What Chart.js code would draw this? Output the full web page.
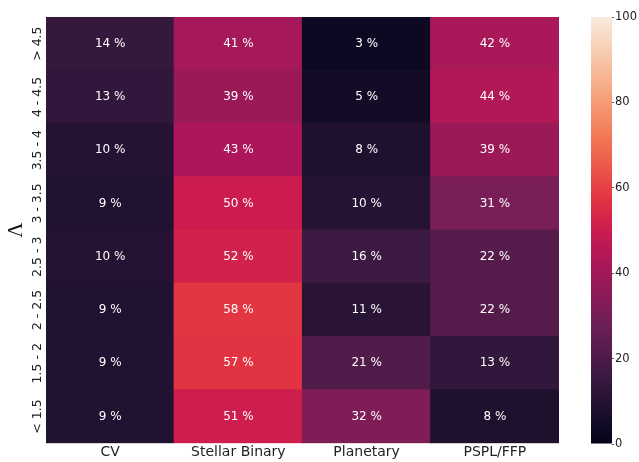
<!DOCTYPE html>
<html>
<head>
<meta charset="utf-8">
<script src="https://cdn.jsdelivr.net/npm/chart.js@4.4.1/dist/chart.umd.min.js"></script>
<style>
  html, body { margin: 0; padding: 0; background: #fff; }
  #wrap { position: relative; width: 639px; height: 462px; }
  #heat { position: absolute; left: 0; top: 0; }
  #cbar { position: absolute; left: 584px; top: 0; }
</style>
</head>
<body>
<div id="wrap">
  <canvas id="heat" width="639" height="462"></canvas>
  <canvas id="cbar" width="55" height="462"></canvas>
</div>
<script>
// heatmap data (percent per class, rows top -> bottom)
const classes = ['CV', 'Stellar Binary', 'Planetary', 'PSPL/FFP'];
const lambdaBins = ['> 4.5', '4 - 4.5', '3.5 - 4', '3 - 3.5', '2.5 - 3', '2 - 2.5', '1.5 - 2', '< 1.5'];
const cvPct       = [14, 13, 10,  9, 10,  9,  9,  9];
const binaryPct   = [41, 39, 43, 50, 52, 58, 57, 51];
const planetPct   = [ 3,  5,  8, 10, 16, 11, 21, 32];
const psplPct     = [42, 44, 39, 31, 22, 22, 13,  8];
const cbarTicks   = [0, 20, 40, 60, 80, 100];

(function(){
  'use strict';

  // rocket colormap, a few stops (position 0..1, rgb)
  const rocket = [
    [0.000, [3, 5, 26]],
    [0.143, [53, 25, 62]],
    [0.286, [112, 31, 87]],
    [0.429, [173, 23, 89]],
    [0.500, [203, 27, 79]],
    [0.571, [225, 51, 66]],
    [0.714, [243, 118, 81]],
    [0.857, [246, 180, 143]],
    [1.000, [250, 235, 221]]
  ];
  function rocketColor(t){
    t = Math.max(0, Math.min(1, t));
    for (let i = 1; i < rocket.length; i++){
      if (t <= rocket[i][0]){
        const [p0, c0] = rocket[i-1], [p1, c1] = rocket[i];
        const f = (t - p0) / (p1 - p0);
        const c = c0.map((v, k) => Math.round(v + (c1[k] - v) * f));
        return `rgb(${c[0]},${c[1]},${c[2]})`;
      }
    }
    return 'rgb(250,235,221)';
  }

  const columns = [cvPct, binaryPct, planetPct, psplPct];
  const nRows = lambdaBins.length;

  // one stacked dataset per Lambda bin, bottom row first
  const datasets = [];
  for (let r = nRows - 1; r >= 0; r--){
    const vals = columns.map(col => col[r]);
    datasets.push({
      label: lambdaBins[r],
      data: classes.map(() => 1),
      pct: vals,
      backgroundColor: vals.map(v => rocketColor(v / 100)),
      borderWidth: 0,
      inflateAmount: 0.6,
      barPercentage: 1,
      categoryPercentage: 1
    });
  }

  // cell annotations + rotated row labels + Lambda axis title
  const heatText = {
    id: 'heatText',
    afterDatasetsDraw(chart){
      const ctx = chart.ctx;
      ctx.save();
      ctx.fillStyle = '#ffffff';
      ctx.font = '12px "DejaVu Sans"';
      ctx.textAlign = 'center';
      ctx.textBaseline = 'middle';
      chart.data.datasets.forEach((ds, di) => {
        chart.getDatasetMeta(di).data.forEach((el, i) => {
          const p = el.getCenterPoint();
          ctx.fillText(ds.pct[i] + ' %', p.x, p.y);
        });
      });

      const ys = chart.scales.y;
      ctx.fillStyle = '#222';
      ctx.font = '12.5px "DejaVu Sans"';
      lambdaBins.forEach((lab, r) => {
        const y = ys.getPixelForValue(nRows - r - 0.5);
        ctx.save();
        ctx.translate(38, y);
        ctx.rotate(-Math.PI / 2);
        ctx.fillText(lab, 0, 0);
        ctx.restore();
      });

      const a = chart.chartArea;
      ctx.save();
      ctx.translate(16, (a.top + a.bottom) / 2);
      ctx.rotate(-Math.PI / 2);
      ctx.font = '21px "Liberation Serif"';
      ctx.fillStyle = '#111';
      ctx.fillText('\u039B', 0, 0);
      ctx.restore();
      ctx.restore();
    }
  };

  new Chart(document.getElementById('heat'), {
    type: 'bar',
    data: { labels: classes, datasets },
    options: {
      responsive: false,
      animation: false,
      devicePixelRatio: 1,
      layout: { padding: { left: 46, top: 17, right: 80, bottom: 0 } },
      plugins: { legend: { display: false }, tooltip: { enabled: false } },
      scales: {
        x: {
          stacked: true,
          grid: { display: false, drawTicks: false },
          border: { display: false },
          ticks: { color: '#222', font: { family: 'DejaVu Sans', size: 14 }, padding: 1 }
        },
        y: { stacked: true, display: false, min: 0, max: nRows }
      }
    },
    plugins: [heatText]
  });

  // colour bar
  new Chart(document.getElementById('cbar'), {
    type: 'bar',
    data: {
      labels: [''],
      datasets: [{
        data: [cbarTicks[cbarTicks.length - 1]],
        borderWidth: 0,
        inflateAmount: 0,
        barPercentage: 1,
        categoryPercentage: 1,
        backgroundColor(c){
          const a = c.chart.chartArea;
          if (!a) return '#000';
          const g = c.chart.ctx.createLinearGradient(0, a.bottom, 0, a.top);
          for (let i = 0; i <= 40; i++) g.addColorStop(i / 40, rocketColor(i / 40));
          return g;
        }
      }]
    },
    options: {
      responsive: false,
      animation: false,
      devicePixelRatio: 1,
      layout: { padding: { left: 7, top: 17, right: 0, bottom: 18 } },
      plugins: { legend: { display: false }, tooltip: { enabled: false } },
      scales: {
        x: { display: false },
        y: {
          position: 'right',
          min: cbarTicks[0],
          max: cbarTicks[cbarTicks.length - 1],
          afterBuildTicks(s){ s.ticks = cbarTicks.map(v => ({ value: v })); },
          afterFit(s){ s.width = 27; },
          grid: { drawOnChartArea: false, drawTicks: true, tickLength: 2, color: '#333', lineWidth: 0.8 },
          border: { display: false },
          ticks: { color: '#222', font: { family: 'DejaVu Sans', size: 11.5 }, padding: 1 }
        }
      }
    }
  });
})();
</script>
</body>
</html>
